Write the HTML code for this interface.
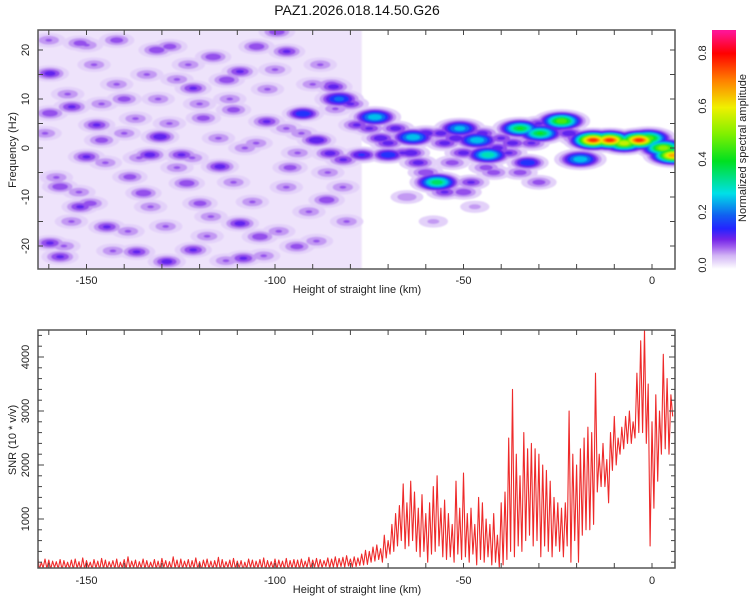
<!DOCTYPE html>
<html><head><meta charset="utf-8"><style>
html,body{margin:0;padding:0;background:#fff;}
svg{display:block;font-family:"Liberation Sans",sans-serif;}
</style></head><body>
<svg id="chart" width="750" height="600" viewBox="0 0 750 600" xmlns="http://www.w3.org/2000/svg">
<defs>
<clipPath id="clipTop"><rect x="38" y="30" width="637" height="239"/></clipPath>
<clipPath id="clipBot"><rect x="38" y="330" width="637" height="238"/></clipPath>
<linearGradient id="cbGrad" x1="0" y1="1" x2="0" y2="0"></linearGradient>
<filter id="soft" x="-5%" y="-5%" width="110%" height="110%"><feGaussianBlur stdDeviation="0.7"/></filter>
</defs>
<text x="357" y="15" font-size="14" text-anchor="middle" fill="#111">PAZ1.2026.018.14.50.G26</text>
<g clip-path="url(#clipTop)"><g id="heat" filter="url(#soft)"></g></g>
<g id="snr" clip-path="url(#clipBot)"></g>
<g id="axes"></g>
<rect id="cbar" x="712" y="30" width="24" height="239" fill="url(#cbGrad)"/>
<text transform="translate(746,148) rotate(-90)" font-size="11" text-anchor="middle" fill="#222">Normalized spectral amplitude</text>
<text x="357" y="293" font-size="11" text-anchor="middle" fill="#222">Height of straight line (km)</text>
<text x="357" y="593" font-size="11" text-anchor="middle" fill="#222">Height of straight line (km)</text>
<text transform="translate(16,150) rotate(-90)" font-size="11" text-anchor="middle" fill="#222">Frequency (Hz)</text>
<text transform="translate(16,440) rotate(-90)" font-size="11" text-anchor="middle" fill="#222">SNR (10 * v/v)</text>
</svg>
<script>
// ---------- data ----------
const xTicks = [-150, -100, -50, 0];
const freqTicks = [-20, -10, 0, 10, 20];
const snrTicks = [1000, 2000, 3000, 4000];
const cbTicks = [0.0, 0.2, 0.4, 0.6, 0.8];
// background noise blobs (km, Hz, amplitude)
const noiseKm = [-159.7,-159.7,-153.9,-147.3,-150,-130.5,-133.2,-124.8,-119,-114.6,-121.7,-109.3,-96.9,-104.9,-112.8,-111,-102.2,-92.5,-88.9,-99.5,-151.7,-144.6,-136.7,-128.7,-121.7,-109.3,-108.4,-159.7,-157,-149,-119.9,-123.4,-134.9,-138.5,-131.4,-127.9,-142,-151.7,-116.4,-84.5,-78.3,-81.9,-85.4,-86.3,-104,-94.2,-146,-157,-140,-96];
const noiseHz = [15.2,7.1,8.4,4.7,-1.8,2.3,-1.4,-1.4,6.1,-3.8,12.2,15.6,19.7,20.7,13.9,7.8,5.4,7.1,1.6,23.7,-12,-16.1,-21.2,-23.2,-20.8,-15.4,-22.5,-19.4,-22.2,-11.3,-11.3,-7.2,-9.2,-5.9,20,20.7,22,21.4,18.6,12.5,4.7,-2.4,-1.1,-10.6,-18.1,-20.1,1.6,-7.9,10,-4];
const noiseAmp = [0.13,0.11,0.12,0.12,0.12,0.14,0.13,0.12,0.1,0.13,0.12,0.12,0.12,0.11,0.11,0.1,0.12,0.16,0.14,0.11,0.12,0.12,0.12,0.13,0.12,0.13,0.12,0.12,0.12,0.1,0.1,0.11,0.11,0.1,0.11,0.1,0.1,0.1,0.11,0.13,0.12,0.12,0.13,0.11,0.11,0.1,0.1,0.11,0.1,0.1];
// medium lavender noise patches (km, Hz)
const midKm = [-161,-155,-148,-142,-137,-131,-126,-120,-115,-108,-102,-97,-91,-86,-81,-158,-152,-145,-139,-134,-128,-122,-117,-111,-105,-99,-93,-88,-82,-160,-154,-146,-140,-133,-126,-118,-112,-106,-100,-94,-89,-84,-156,-150,-143,-136,-129,-123,-113,-103,-97,-90];
const midHz = [3,11,17,13,6,10,-4,9,2,0,12,-8,-13,-5,-15,-6,-9,-3,-17,15,5,-2,-14,-7,1,-17,3,17,-8,22,-15,9,3,-12,14,-18,10,-11,16,-1,-19,8,-20,21,-21,-2,-16,17,-23,-22,4,13];
// signal band blobs (km, Hz, amplitude)
const bandKm = [-83,-73.5,-92.6,-89,-77,-63.4,-70,-51,-46.4,-43.5,-57,-33,-35,-29.7,-24,-19,-15.6,-11.2,-7.4,-3.4,-1,3,5.5,-80,-75,-70,-66,-60,-55,-50,-45,-40,-38,-30,-25,-20,-55,-50,-60,-48,-42,-35,-30,-85,-47,-58,-65,-68,-62,-72,-64,-56,-52,-41,-37,-27,-22,-13,-9,-5,1,-53,-44,-32];
const bandHz = [10,6.3,7,1.6,-1.4,2.2,-1.4,4,1.6,-1.4,-7,-3,4,3,5.5,-2.3,1.6,1.6,1,1.6,2,0,-1.5,9,4,1,-1,3,1,-1,3,2,-1,5,4,2,-9,-9,-5,-7,-5,-5,-7,13,-12,-15,-10,4,-3,2,-1,3,2,0,1,4,3,2,2,2,1,-3,-4,1];
const bandAmp = [0.22,0.3,0.2,0.15,0.16,0.3,0.2,0.28,0.3,0.35,0.4,0.2,0.42,0.42,0.5,0.3,0.8,0.8,0.6,0.8,0.5,0.55,0.7,0.12,0.12,0.13,0.12,0.14,0.13,0.13,0.13,0.12,0.12,0.12,0.12,0.12,0.12,0.11,0.11,0.12,0.1,0.1,0.1,0.1,0.06,0.06,0.08,0.13,0.13,0.14,0.14,0.13,0.14,0.13,0.13,0.14,0.14,0.16,0.16,0.16,0.15,0.1,0.1,0.12];
// SNR: per-km peak and trough values, km -163 .. 6
const snrStartKm = -163;
const snrHigh = [330,200,260,240,220,210,250,230,200,240, 260,210,280,230,200,250,220,270,240,210, 230,260,200,250,300,220,240,210,260,230, 200,250,220,270,230,210,300,240,260,220, 250,230,280,210,240,260,220,230,290,250, 210,240,270,220,230,200,260,240,220,250, 280,230,210,260,240,220,270,230,250,240, 260,220,290,240,270,250,230,280,260,300, 270,290,320, 260,300,280,350,420,400,480,520,450,700, 600,900,1100,1250,1650,1300,1700,1500,1200,1450, 1100,1300,1600,1800,1200,1350,1100,900,1700,1200, 1850,1100,1200,900,1400,1300,1000,900,1100,700, 1300,1500,2500,3400,2200,1800,2600,2300,2400,2300, 2200,2000,1900,1700,1400,1300,1200,1300,3000,2200, 2000,2300,2500,2700,2600,3700,2200,2400,2100,2600, 2900,2500,2700,2900,3000,2800,3700,4300,4500,3500, 2800,3300,3000,4050,3600,3300];
const snrLow = [60,90,80,70,100,80,60,90,80,70, 90,60,80,100,70,90,60,80,70,100, 80,60,90,70,80,100,60,90,80,70, 90,80,60,100,70,80,90,60,80,100, 70,90,80,60,100,80,70,90,60,80, 100,70,80,90,60,80,100,70,90,80, 60,90,80,70,100,80,60,90,80,70, 90,100,80,110,90,100,120,90,110,100, 120,110,130, 110,120,140,150,160,200,220,250,200,280, 350,400,500,600,450,500,600,400,300,400, 200,350,400,500,300,250,300,200,350,250, 300,200,350,150,250,200,300,150,200,100, 150,250,400,300,500,400,600,700,500,600, 300,500,400,300,500,400,300,500,200,600, 200,700,800,800,900,1500,1600,1600,1300,1900, 2000,2200,2300,2400,2400,2500,2600,2600,2400,500, 1200,1700,2200,2300,2200,2900];

// ---------- scales ----------
const X = km => 652 + km * 3.77;
const YF = hz => 148 - hz * 4.9;
const YS = v => 573 - v * 0.054;
const NS = 'http://www.w3.org/2000/svg';
function mk(tag, attrs, parent){ const e=document.createElementNS(NS,tag); for(const k in attrs) e.setAttribute(k,attrs[k]); parent.appendChild(e); return e; }

const cmStops = [[0,'#ffffff'],[0.02,'#ece0fb'],[0.05,'#d2b4f5'],[0.08,'#a464ee'],[0.11,'#7424e8'],[0.15,'#2424ff'],[0.2,'#1060f0'],[0.28,'#00e0e8'],[0.4,'#00e020'],[0.5,'#80f000'],[0.6,'#f0f000'],[0.7,'#ff8000'],[0.8,'#ff0000'],[0.88,'#ff1493']];
function hex(c){return [parseInt(c.slice(1,3),16),parseInt(c.slice(3,5),16),parseInt(c.slice(5,7),16)];}
function cmap(v){
  if(v<=0) return cmStops[0][1];
  for(let i=1;i<cmStops.length;i++){
    if(v<=cmStops[i][0]){
      const [a,ca]=cmStops[i-1],[b,cb]=cmStops[i]; const t=(v-a)/(b-a);
      const A=hex(ca),B=hex(cb);
      return 'rgb('+A.map((x,j)=>Math.round(x+(B[j]-x)*t)).join(',')+')';
    }
  }
  return cmStops[cmStops.length-1][1];
}
const grad=document.getElementById('cbGrad');
cmStops.forEach(s=>{ mk('stop',{offset:(s[0]/0.887).toFixed(3),'stop-color':s[1]},grad); });

// ---------- heatmap ----------
const heat=document.getElementById('heat');
const bg=mk('rect',{x:X(-163),y:30,width:X(-77)-X(-163),height:239,fill:'#eee3fb'},heat);


const blobs=[];
midKm.forEach((k,i)=>blobs.push({k:k,h:midHz[i],a:0.085,s:14,r:2.3}));
noiseKm.forEach((k,i)=>blobs.push({k:k,h:noiseHz[i],a:noiseAmp[i],s:14,r:2.3}));
bandKm.forEach((k,i)=>blobs.push({k:k,h:bandHz[i],a:bandAmp[i],s:bandAmp[i]>0.2?16:14,r:2.4}));
const levels=[0.02,0.05,0.08,0.11,0.15,0.2,0.25,0.3,0.35,0.4,0.45,0.5,0.55,0.6,0.65,0.7,0.75,0.8];
levels.forEach(L=>{
  blobs.forEach(b=>{
    if(b.a<=L) return;
    const f=Math.sqrt(Math.log(b.a/L));
    const e=mk('ellipse',{cx:X(b.k),cy:YF(b.h),rx:(b.s*f).toFixed(1),ry:(b.s*f/b.r).toFixed(1),fill:cmap(L+0.01)},heat);
    
    
  });
});

// ---------- SNR line ----------
const snr=document.getElementById('snr');
let pts=[];
snrHigh.forEach((v,i)=>{
  const km=snrStartKm+i;
  pts.push(X(km).toFixed(1)+','+YS(v).toFixed(1));
  pts.push(X(km+0.5).toFixed(1)+','+YS(snrLow[i]).toFixed(1));
});
const line=mk('polyline',{points:pts.join(' '),fill:'none',stroke:'#ee2a2a','stroke-width':1.1,'stroke-linejoin':'round'},snr);



// ---------- axes ----------
const ax=document.getElementById('axes');
function frame(y0,y1,name){
  const r=mk('rect',{x:38,y:y0,width:637,height:y1-y0,fill:'none',stroke:'#555','stroke-width':1.5},ax);
  
  
}
frame(30,269,'top-plot-frame');
frame(330,568,'bottom-plot-frame');
function xAxis(y0,y1,ly){
  for(let km=-160;km<=0;km+=10){
    const x=X(km);
    mk('line',{x1:x,y1:y0,x2:x,y2:y0+5,stroke:'#444'},ax);
    mk('line',{x1:x,y1:y1,x2:x,y2:y1-5,stroke:'#444'},ax);
  }
  xTicks.forEach(t=>{
    const tx=mk('text',{x:X(t),y:ly,'font-size':11,'text-anchor':'middle',fill:'#222'},ax);
    tx.textContent=t;
    
    
  });
}
xAxis(30,269,284);
xAxis(330,568,584);
for(let hz=-20;hz<=20;hz+=5){
  const y=YF(hz);
  mk('line',{x1:38,y1:y,x2:43,y2:y,stroke:'#444'},ax);
  mk('line',{x1:675,y1:y,x2:670,y2:y,stroke:'#444'},ax);
}
freqTicks.forEach(t=>{
  const tx=mk('text',{transform:'translate(29,'+YF(t)+') rotate(-90)','font-size':11,'text-anchor':'middle',fill:'#222'},ax);
  tx.textContent=t;
  
  
});
for(let v=200;v<=4400;v+=200){
  const y=YS(v);
  const len=(v%1000===0)?6:4;
  mk('line',{x1:38,y1:y,x2:38+len,y2:y,stroke:'#444'},ax);
  mk('line',{x1:675,y1:y,x2:675-len,y2:y,stroke:'#444'},ax);
}
snrTicks.forEach(t=>{
  const tx=mk('text',{transform:'translate(29,'+YS(t)+') rotate(-90)','font-size':11,'text-anchor':'middle',fill:'#222'},ax);
  tx.textContent=t;
  
  
});
cbTicks.forEach(t=>{
  const yy=265-t/0.2*53;
  const tx=mk('text',{transform:'translate(706,'+yy+') rotate(-90)','font-size':11,'text-anchor':'middle',fill:'#222'},ax);
  tx.textContent=t.toFixed(1);
  
  
});
</script>
</body></html>
